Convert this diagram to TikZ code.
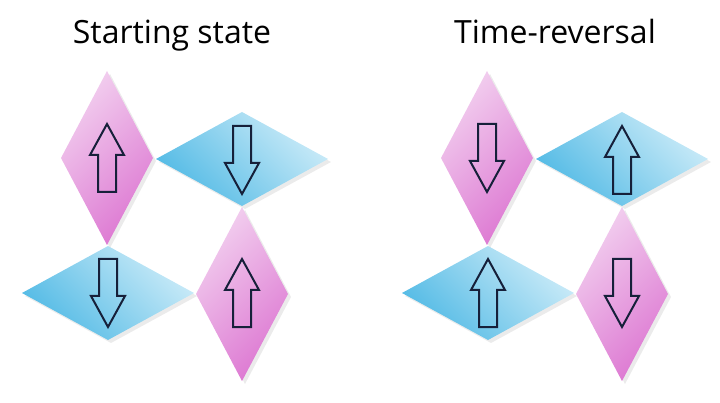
\documentclass[tikz,border=0pt]{standalone}
\usepackage{fontspec}
\setmainfont{Open Sans}
\begin{document}
\begin{tikzpicture}[x=1pt,y=-1pt,
  pinkfill/.style={shade, top color=pinkA, bottom color=pinkB, shading angle=45},
  bluefill/.style={shade, top color=blueA, bottom color=blueB, shading angle=-45},
  shadowfill/.style={fill=black, opacity=0.08},
  arrowline/.style={draw=navy, line width=2pt, line join=miter},
  title/.style={font=\fontsize{32}{36}\selectfont, anchor=base, text=black, inner sep=0pt},
  uparrow/.pic={\draw[arrowline] (-9,34) -- (-9,-3) -- (-17,-3) -- (0,-34) -- (17,-3) -- (9,-3) -- (9,34) -- cycle;},
  downarrow/.pic={\draw[arrowline] (-9,-34) -- (-9,3) -- (-17,3) -- (0,34) -- (17,3) -- (9,3) -- (9,-34) -- cycle;},
  vdiamond/.pic={
    \fill[shadowfill] (3,-84) -- (49,3) -- (3,90) -- (-43,3) -- cycle;
    \path[pinkfill] (0,-87) -- (46,0) -- (0,87) -- (-46,0) -- cycle;},
  hdiamond/.pic={
    \fill[shadowfill] (-83,3) -- (3,-44) -- (89,3) -- (3,50) -- cycle;
    \path[bluefill] (-86,0) -- (0,-47) -- (86,0) -- (0,47) -- cycle;}
]
\definecolor{pinkA}{HTML}{F2CFEF}
\definecolor{pinkB}{HTML}{DD78D2}
\definecolor{blueA}{HTML}{CBEBF8}
\definecolor{blueB}{HTML}{52BAE5}
\definecolor{navy}{HTML}{16203A}
\useasboundingbox (0,0) rectangle (720,403);

% Left group: Starting state
\node[title] (t1) at (172,44) {Starting state};
\pic (a1) at (107,158) {vdiamond};
\pic (b1) at (242,159) {hdiamond};
\pic (c1) at (108,293) {hdiamond};
\pic (d1) at (242,294) {vdiamond};
\pic (ua1) at (107,158) {uparrow};
\pic (ub1) at (242,160) {downarrow};
\pic (uc1) at (108,293) {downarrow};
\pic (ud1) at (242,293) {uparrow};

% Right group: Time-reversal
\node[title] (t2) at (555,44) {Time-reversal};
\pic (a2) at (487,158) {vdiamond};
\pic (b2) at (622,159) {hdiamond};
\pic (c2) at (488,293) {hdiamond};
\pic (d2) at (622,294) {vdiamond};
\pic (ua2) at (487,158) {downarrow};
\pic (ub2) at (622,160) {uparrow};
\pic (uc2) at (488,293) {uparrow};
\pic (ud2) at (622,293) {downarrow};
\end{tikzpicture}
\end{document}
